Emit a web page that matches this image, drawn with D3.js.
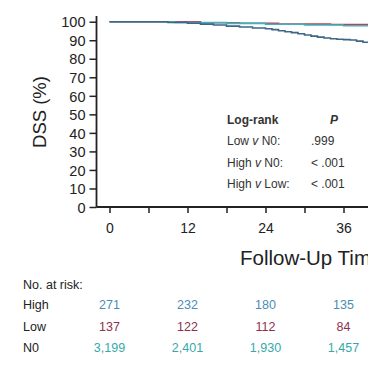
<!DOCTYPE html>
<html><head><meta charset="utf-8">
<script src="https://cdn.jsdelivr.net/npm/d3@7"></script>
<style>
html,body{margin:0;padding:0;background:#fff;overflow:hidden;}
svg{display:block;font-family:"Liberation Sans",Arial,sans-serif;}
</style></head>
<body>
<svg id="c" width="368" height="381"></svg>
<script>
// ---- data ----
const highTimes = [0, 9, 12, 14, 16, 18, 20, 22, 24, 25, 26, 27, 28, 29, 30, 31, 32, 33, 34, 35, 36, 37, 38, 39, 40, 42];
const highSurv  = [100, 99.6, 99.2, 98.7, 98.2, 97.6, 97.1, 96.6, 96.2, 95.7, 95.1, 94.6, 94.1, 93.5, 92.8, 92.2, 91.7, 91.2, 90.8, 90.5, 90.3, 90.1, 89.5, 88.9, 88.5, 88.0];
const lowTimes  = [0, 14, 20, 26, 34, 42];
const lowSurv   = [100, 99.4, 99.2, 98.7, 98.5, 98.5];
const n0Times   = [0, 10, 18, 24, 30, 36, 42];
const n0Surv    = [100, 99.6, 99.1, 98.6, 98.2, 97.8, 97.4];
const yTicks = [0, 10, 20, 30, 40, 50, 60, 70, 80, 90, 100];
const xMajorTicks = [0, 12, 24, 36];
const xMinorTicks = [6, 18, 30, 42];
const riskTimes = [0, 12, 24, 36];
const riskHigh = ["271", "232", "180", "135"];
const riskLow  = ["137", "122", "112", "84"];
const riskN0   = ["3,199", "2,401", "1,930", "1,457"];
const logrankLabels = ["Low v N0:", "High v N0:", "High v Low:"];
const logrankP = [".999", "< .001", "< .001"];

const colHighLine = "#3f6688", colLowLine = "#c43b5c", colN0Line = "#3ab5b8";
const colHighTxt = "#4b8db5", colLowTxt = "#8e2f4f", colN0Txt = "#36a9aa";

const svg = d3.select("#c");
const x = d3.scaleLinear().domain([-2, 60]).range([96.5, 96.5 + 62 * 6.5]);
const y = d3.scaleLinear().domain([0, 100]).range([207, 21.7]);

// axes
const yAxis = d3.axisLeft(y).tickValues(yTicks).tickSize(7).tickSizeOuter(0);
const gy = svg.append("g").attr("transform", `translate(${x(-2)},0)`).call(yAxis);
gy.select(".domain").attr("d", `M0,${y(0)+0.5}V${y(103.1)}`);
gy.selectAll("line").attr("stroke", "#222").attr("stroke-width", 1.5);
gy.select(".domain").attr("stroke", "#222").attr("stroke-width", 1.8);
gy.selectAll("text").attr("font-size", 14.5).attr("fill", "#222").attr("x", -11).attr("dy", "0.36em");

const xAxis = d3.axisBottom(x).tickValues(xMajorTicks.concat(xMinorTicks)).tickSize(6).tickSizeOuter(0)
  .tickFormat(d => xMajorTicks.includes(d) ? d : "");
const gx = svg.append("g").attr("transform", `translate(0,${y(0)})`).call(xAxis);
gx.select(".domain").attr("d", `M${x(-2)},0H${x(60)}`).attr("stroke", "#222").attr("stroke-width", 1.8);
gx.selectAll("line").attr("stroke", "#222").attr("stroke-width", 1.5);
gx.selectAll("text").attr("font-size", 14).attr("fill", "#222").attr("y", 16);

// axis titles
svg.append("text").attr("transform", "translate(46,112) rotate(-90)").attr("text-anchor", "middle")
  .attr("font-size", 18.5).attr("fill", "#222").text("DSS (%)");
svg.append("text").attr("x", 240).attr("y", 265).attr("font-size", 20.5).attr("fill", "#222")
  .text("Follow-Up Time (months)");

// curves
const line = d3.line().curve(d3.curveStepAfter).x(d => x(d[0])).y(d => y(d[1]));
function drawCurve(ts, vs, col) {
  svg.append("path").datum(ts.map((t, i) => [t, vs[i]])).attr("d", line)
    .attr("fill", "none").attr("stroke", col).attr("stroke-width", 1.6);
}
drawCurve(lowTimes, lowSurv, colLowLine);
drawCurve(n0Times, n0Surv, colN0Line);
drawCurve(highTimes, highSurv, colHighLine);

// log-rank box
const lg = svg.append("g").attr("font-size", 12).attr("fill", "#333");
lg.append("text").attr("x", 227).attr("y", 124).attr("font-weight", "bold").text("Log-rank");
lg.append("text").attr("x", 330).attr("y", 124).attr("font-weight", "bold").attr("font-style", "italic").text("P");
logrankLabels.forEach((lab, i) => {
  const t = lg.append("text").attr("x", 227).attr("y", 145 + i * 21.5);
  const parts = lab.split(" v ");
  t.append("tspan").text(parts[0] + " ");
  t.append("tspan").attr("font-style", "italic").text("v");
  t.append("tspan").text(" " + parts[1]);
  lg.append("text").attr("x", 311).attr("y", 145 + i * 21.5).text(logrankP[i]);
});

// risk table
const rt = svg.append("g").attr("font-size", 12.5).attr("fill", "#222");
rt.append("text").attr("x", 23).attr("y", 289).text("No. at risk:");
const rows = [["High", riskHigh, colHighTxt], ["Low", riskLow, colLowTxt], ["N0", riskN0, colN0Txt]];
rows.forEach((r, i) => {
  const yy = 309 + i * 21.5;
  rt.append("text").attr("x", 23).attr("y", yy).text(r[0]);
  r[1].forEach((v, j) => {
    rt.append("text").attr("x", x(riskTimes[j])).attr("y", yy).attr("text-anchor", "middle")
      .attr("fill", r[2]).text(v);
  });
});
</script>
</body></html>
